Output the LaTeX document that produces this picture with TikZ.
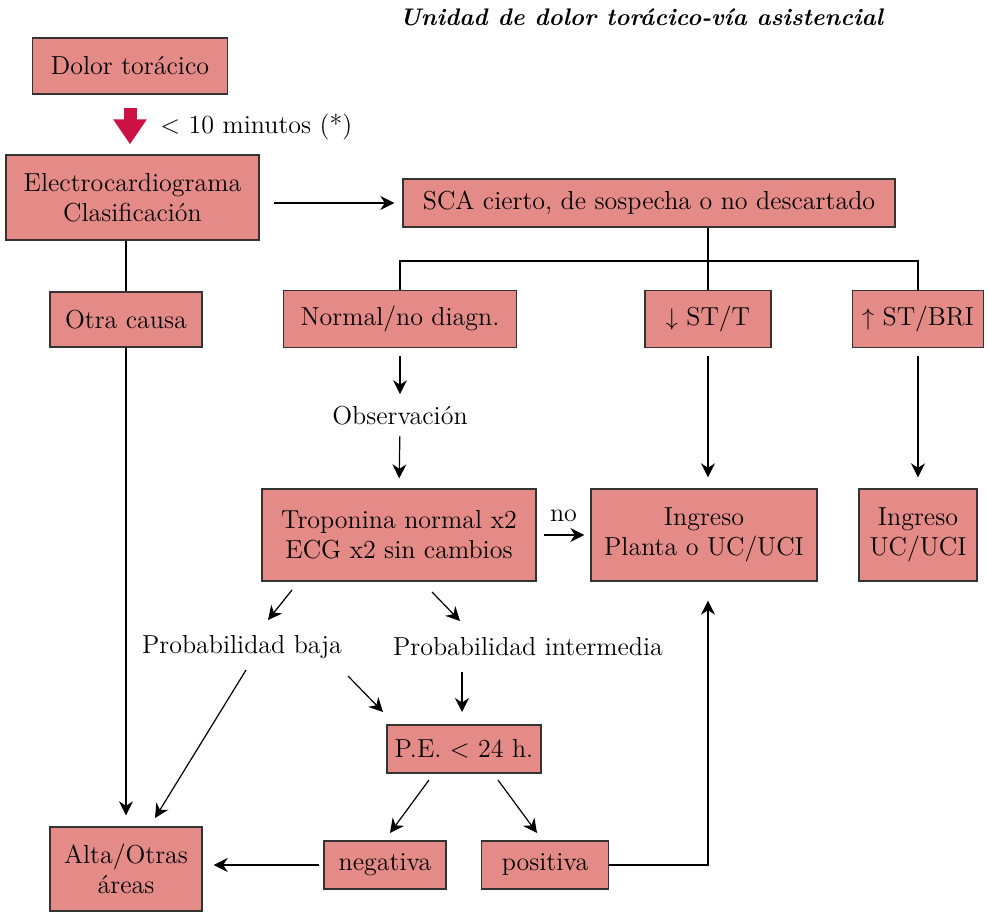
\documentclass[tikz,border=0pt]{standalone}
\usepackage{tikz}
\usepackage{xcolor}
\usetikzlibrary{arrows.meta,calc,positioning}
\definecolor{boxfill}{HTML}{E48B87}
\definecolor{boxline}{HTML}{333333}
\definecolor{alarm}{HTML}{CC1144}
\tikzset{%
  arrow/.style={line width=0.6pt,-{Stealth[length=7pt,width=7pt]}},
  link/.style={line width=0.6pt},
  box/.style={draw=boxline,fill=boxfill,line width=0.7pt,align=center,inner sep=2pt},
  txt/.style={align=center,inner sep=1pt},
  alarmArrow/.style={alarm,line width=6.5pt,-{Triangle[length=12.5pt,width=16pt]},shorten <=6.5pt,shorten >=5pt},
}

\begin{document}
\begin{tikzpicture}[x=0.5pt,y=-0.5pt,font=\fontsize{13}{15}\selectfont]
      \useasboundingbox (0,0) rectangle (988,913);

      \node[anchor=east,font=\fontsize{12}{14}\selectfont\bfseries\itshape] (titulo) at (890,17) {Unidad de dolor torácico-vía asistencial};

      % first column
      \node[box,minimum width=97.5pt,minimum height=28pt] (dolor) at (130,66) {Dolor torácico};
      \node[txt,anchor=west] (minutos) at (158,127) {\textless{} 10 minutos (*)};
      \node[box,minimum width=126.5pt,minimum height=42.5pt] (ecg) at (132.5,197.5) {Electrocardiograma\\Clasificación};
      \node[box,minimum width=76pt,minimum height=27.5pt] (otraCausa) at (126,319.5) {Otra causa};
      \node[box,minimum width=76pt,minimum height=42pt] (alta) at (126,869) {Alta/Otras\\áreas};

      % SCA branch
      \node[box,minimum width=246pt,minimum height=24pt] (sca) at (649,203) {SCA cierto, de sospecha o no descartado};
      \node[box,minimum width=116.5pt,minimum height=28.5pt] (normal) at (400,319) {Normal/no diagn.};
      \node[box,minimum width=63pt,minimum height=28.5pt] (stDown) at (708,319) {$\downarrow$\ ST/T};
      \node[box,minimum width=65.5pt,minimum height=28.5pt] (stUp) at (918,319) {$\uparrow$\ ST/BRI};
      \node[txt] (observacion) at (400,416) {Observación};
      \node[box,minimum width=137pt,minimum height=46pt] (troponina) at (399,535) {Troponina normal x2\\ECG x2 sin cambios};
      \node[box,minimum width=113pt,minimum height=46pt] (ingresoPlanta) at (704,535) {Ingreso\\Planta o UC/UCI};
      \node[box,minimum width=59pt,minimum height=46pt] (ingresoUci) at (918,535) {Ingreso\\UC/UCI};
      \node[txt] (probBaja) at (242,647) {Probabilidad baja};
      \node[txt] (probInter) at (528,647) {Probabilidad intermedia};
      \node[box,minimum width=77pt,minimum height=24pt] (pe) at (464,749) {P.E. \textless{} 24 h.};
      \node[box,minimum width=61pt,minimum height=24pt] (negativa) at (385,865) {negativa};
      \node[box,minimum width=63.5pt,minimum height=24pt] (positiva) at (545,865) {positiva};
      \coordinate (bar) at (0,261);

      \draw[alarmArrow] (dolor.south) -- (dolor.south |- ecg.north);
      \draw[arrow,shorten <=7pt,shorten >=4pt] (ecg.east |- sca.west) -- (sca.west);
      \draw[link] (ecg.south -| otraCausa.north) -- (otraCausa.north);
      \draw[arrow,shorten >=5.5pt] (otraCausa.south) -- (alta.north);
      \draw[link] (stDown.north |- sca.south) -- (stDown.north);
      \draw[link] (normal.north) |- (bar -| stUp) -- (stUp.north);

      \draw[arrow,shorten <=4pt,shorten >=5pt] (normal.south) -- (observacion.north);
      \draw[arrow,shorten <=4pt,shorten >=5pt] (observacion.south) -- (troponina.north);
      \draw[arrow,shorten <=4pt,shorten >=5.5pt] (stDown.south) -- (stDown.south |- ingresoPlanta.north);
      \draw[arrow,shorten <=4pt,shorten >=5.5pt] (stUp.south) -- (ingresoUci.north);
      \draw[arrow,shorten <=3.5pt,shorten >=3pt] (troponina.east |- ingresoPlanta.west) -- node[above,yshift=3pt] {no} (ingresoPlanta.west);

      \draw[arrow] ([shift={(-107,55)}]troponina.center) -- ([shift={(26,-27)}]probBaja.center);
      \draw[arrow] ([shift={(33,57)}]troponina.center) -- ([shift={(-68,-26)}]probInter.center);
      \draw[arrow] ([shift={(4,23)}]probBaja.center) -- ([shift={(29,-51)}]alta.center);
      \draw[arrow] ([shift={(106,29)}]probBaja.center) -- ([shift={(-81,-37)}]pe.center);
      \draw[arrow] ([shift={(-66,25)}]probInter.center) -- ([shift={(-2,-37)}]pe.center);
      \draw[arrow] ([shift={(-35,31)}]pe.center) -- ([shift={(5,-32)}]negativa.center);
      \draw[arrow] ([shift={(34,31)}]pe.center) -- ([shift={(-8,-32)}]positiva.center);
      \draw[arrow,shorten <=2pt,shorten >=5.5pt] (negativa.west) -- (negativa.west -| alta.east);
      \draw[arrow,shorten >=9.5pt] (positiva.east) -| (stDown.south |- ingresoPlanta.south);
    \end{tikzpicture}
\end{document}
